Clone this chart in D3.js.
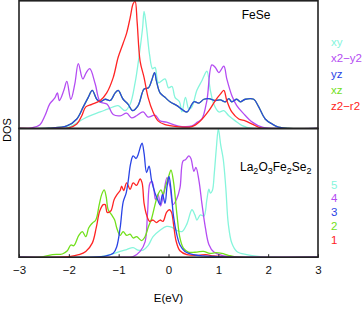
<!DOCTYPE html>
<html>
<head>
<meta charset="utf-8">
<script src="https://cdn.jsdelivr.net/npm/d3@7"></script>
<style>
  body { margin: 0; background: #fff; }
  svg { display: block; font-family: "Liberation Sans", Arial, sans-serif; }
  .line { fill: none; stroke-width: 1.3; stroke-linejoin: round; }
  .frame { fill: none; stroke: #222; stroke-width: 1.6; }
</style>
</head>
<body>
<script>
// ---- data: [energy (eV), DOS (arbitrary units)] ----
var xTicks = [-3, -2, -1, 0, 1, 2, 3];

// FeSe panel
var fese_xy = [[-2.3,0],[-2.0,0.01],[-1.71,0.075],[-1.58,0.10],[-1.37,0.13],[-1.24,0.15],[-1.11,0.17],[-1.01,0.18],[-0.87,0.14],[-0.77,0.19],[-0.67,0.36],[-0.59,0.57],[-0.52,0.79],[-0.49,0.92],[-0.44,0.79],[-0.38,0.58],[-0.32,0.47],[-0.27,0.48],[-0.20,0.36],[-0.07,0.39],[0.0,0.32],[0.07,0.33],[0.13,0.245],[0.22,0.21],[0.27,0.13],[0.34,0.245],[0.41,0.15],[0.47,0.17],[0.57,0.30],[0.67,0.375],[0.77,0.45],[0.84,0.30],[0.91,0.19],[1.01,0.13],[1.11,0.14],[1.21,0.10],[1.34,0.06],[1.47,0.025],[1.68,0.0],[3,0]];
var fese_x2y2 = [[-3,0],[-2.75,0.005],[-2.58,0.03],[-2.48,0.10],[-2.38,0.195],[-2.28,0.24],[-2.23,0.28],[-2.19,0.22],[-2.10,0.30],[-2.04,0.37],[-1.96,0.23],[-1.88,0.35],[-1.81,0.51],[-1.72,0.39],[-1.65,0.44],[-1.58,0.47],[-1.47,0.35],[-1.37,0.21],[-1.23,0.19],[-1.11,0.11],[-0.97,0.10],[-0.84,0.12],[-0.74,0.083],[-0.64,0.10],[-0.51,0.13],[-0.41,0.09],[-0.27,0.105],[-0.17,0.06],[-0.04,0.05],[0.10,0.03],[0.27,0.015],[0.47,0.02],[0.58,0.05],[0.67,0.075],[0.77,0.22],[0.87,0.50],[0.94,0.48],[1.01,0.44],[1.11,0.49],[1.17,0.39],[1.27,0.26],[1.37,0.18],[1.51,0.115],[1.68,0.05],[1.88,0.01],[2.14,0],[3,0]];
var fese_yz = [[-3,0],[-2.4,0.003],[-2.04,0.02],[-1.84,0.075],[-1.71,0.17],[-1.61,0.245],[-1.53,0.30],[-1.44,0.23],[-1.37,0.21],[-1.27,0.23],[-1.17,0.22],[-1.07,0.28],[-1.01,0.30],[-0.91,0.23],[-0.81,0.19],[-0.72,0.14],[-0.61,0.18],[-0.49,0.31],[-0.40,0.32],[-0.34,0.375],[-0.28,0.44],[-0.24,0.37],[-0.17,0.28],[-0.07,0.245],[0.03,0.21],[0.17,0.18],[0.27,0.15],[0.37,0.13],[0.51,0.21],[0.61,0.20],[0.71,0.23],[0.81,0.235],[0.94,0.22],[1.04,0.225],[1.14,0.21],[1.21,0.235],[1.27,0.21],[1.37,0.23],[1.44,0.21],[1.54,0.23],[1.71,0.23],[1.81,0.17],[1.94,0.075],[2.08,0.035],[2.21,0.01],[2.41,0],[3,0]];
var fese_xz = fese_yz; // degenerate with yz, hidden underneath
var fese_z2r2 = [[-3,0],[-2.2,0],[-2.0,0.005],[-1.84,0.035],[-1.74,0.10],[-1.66,0.17],[-1.54,0.19],[-1.37,0.22],[-1.24,0.28],[-1.11,0.40],[-1.01,0.56],[-0.91,0.67],[-0.84,0.75],[-0.77,0.87],[-0.71,0.98],[-0.67,1.0],[-0.63,0.84],[-0.57,0.53],[-0.49,0.40],[-0.41,0.245],[-0.31,0.13],[-0.21,0.06],[-0.07,0.03],[0.17,0.015],[0.47,0.015],[0.64,0.06],[0.81,0.14],[0.94,0.22],[1.04,0.27],[1.11,0.30],[1.17,0.22],[1.27,0.13],[1.41,0.075],[1.54,0.06],[1.68,0.035],[1.88,0],[3,0]];

// La2O3Fe2Se2 panel
var lofs_1 = [[-3,0],[-2.2,0],[-1.99,0.005],[-1.80,0.02],[-1.66,0.045],[-1.53,0.11],[-1.45,0.23],[-1.38,0.36],[-1.31,0.41],[-1.27,0.41],[-1.23,0.35],[-1.16,0.36],[-1.09,0.45],[-1.03,0.49],[-0.97,0.52],[-0.94,0.555],[-0.90,0.52],[-0.84,0.58],[-0.77,0.53],[-0.71,0.58],[-0.64,0.56],[-0.57,0.61],[-0.53,0.58],[-0.49,0.42],[-0.44,0.33],[-0.38,0.28],[-0.31,0.29],[-0.24,0.27],[-0.17,0.29],[-0.11,0.28],[-0.04,0.35],[0.02,0.37],[0.06,0.35],[0.10,0.26],[0.15,0.13],[0.23,0.05],[0.37,0.02],[0.6,0.015],[0.75,0.02],[0.9,0.01],[1.1,0.005],[1.3,0],[3,0]];
var lofs_2 = [[-3,0],[-2.6,0],[-2.33,0.02],[-2.13,0.025],[-2.03,0.05],[-1.96,0.095],[-1.90,0.09],[-1.80,0.17],[-1.73,0.20],[-1.66,0.16],[-1.60,0.23],[-1.53,0.265],[-1.46,0.29],[-1.39,0.41],[-1.34,0.49],[-1.29,0.525],[-1.25,0.47],[-1.21,0.37],[-1.14,0.33],[-1.08,0.29],[-1.04,0.23],[-0.97,0.17],[-0.91,0.20],[-0.84,0.17],[-0.77,0.18],[-0.71,0.15],[-0.64,0.16],[-0.54,0.13],[-0.47,0.16],[-0.41,0.23],[-0.34,0.30],[-0.27,0.41],[-0.21,0.49],[-0.15,0.525],[-0.11,0.49],[-0.05,0.565],[0.01,0.64],[0.05,0.68],[0.10,0.59],[0.17,0.33],[0.23,0.15],[0.30,0.07],[0.40,0.04],[0.57,0.04],[0.70,0.045],[0.83,0.03],[0.95,0.035],[1.07,0.03],[1.2,0.015],[1.4,0],[3,0]];
var lofs_3 = [[-3,0],[-1.5,0],[-1.25,0.01],[-1.11,0.03],[-1.04,0.08],[-0.97,0.23],[-0.91,0.43],[-0.85,0.50],[-0.81,0.59],[-0.76,0.73],[-0.71,0.79],[-0.65,0.77],[-0.61,0.80],[-0.56,0.865],[-0.53,0.89],[-0.49,0.81],[-0.44,0.66],[-0.39,0.71],[-0.34,0.60],[-0.27,0.50],[-0.22,0.45],[-0.17,0.41],[-0.12,0.49],[-0.07,0.42],[-0.03,0.55],[0.01,0.63],[0.05,0.53],[0.10,0.32],[0.17,0.17],[0.23,0.095],[0.33,0.045],[0.50,0.02],[0.70,0.01],[1.0,0.005],[1.3,0],[3,0]];
var lofs_4 = [[-3,0],[-0.97,0],[-0.71,0.005],[-0.57,0.045],[-0.47,0.12],[-0.42,0.35],[-0.37,0.58],[-0.33,0.59],[-0.29,0.52],[-0.26,0.45],[-0.21,0.49],[-0.16,0.40],[-0.10,0.49],[-0.03,0.62],[0.03,0.55],[0.09,0.41],[0.16,0.45],[0.23,0.54],[0.29,0.75],[0.34,0.76],[0.41,0.79],[0.45,0.77],[0.51,0.67],[0.55,0.70],[0.61,0.60],[0.67,0.42],[0.74,0.23],[0.81,0.10],[0.91,0.04],[1.07,0.015],[1.3,0.003],[1.5,0],[3,0]];
var lofs_5 = [[-3,0],[-1.8,0],[-1.37,0.005],[-1.17,0.02],[-0.97,0.045],[-0.84,0.06],[-0.71,0.075],[-0.61,0.055],[-0.51,0.055],[-0.41,0.09],[-0.31,0.16],[-0.17,0.21],[-0.04,0.24],[0.06,0.235],[0.16,0.21],[0.27,0.20],[0.37,0.26],[0.47,0.37],[0.53,0.33],[0.57,0.29],[0.64,0.33],[0.71,0.32],[0.77,0.45],[0.81,0.53],[0.84,0.50],[0.88,0.52],[0.92,0.66],[0.96,0.85],[1.0,1.0],[1.05,0.87],[1.10,0.76],[1.15,0.54],[1.20,0.26],[1.27,0.11],[1.37,0.045],[1.57,0.02],[1.84,0.005],[2.04,0],[3,0]];

var topNames = ["xy", "x2\u2212y2", "yz", "xz", "z2\u2212r2"];
var botNames = ["5", "4", "3", "2", "1"];
var colors = ["#86f5dc", "#b44cf2", "#2a44e6", "#72e01c", "#ff2424"];

// ---- layout ----
var width = 364, height = 309;
var left = 19, right = 318, plotTop = 0.8, mid = 128.5, bottom = 257.2;

var svg = d3.select("body").append("svg")
    .attr("width", width)
    .attr("height", height);

var x = d3.scaleLinear().domain([-3, 3]).range([left, right]);
var yTop = d3.scaleLinear().domain([0, 1]).range([mid, plotTop + 0.5]);
var yBot = d3.scaleLinear().domain([0, 1]).range([bottom, mid + 0.5]);

var clip = svg.append("defs");
clip.append("clipPath").attr("id", "clipTop")
  .append("rect").attr("x", left).attr("y", plotTop).attr("width", right - left).attr("height", mid - plotTop);
clip.append("clipPath").attr("id", "clipBot")
  .append("rect").attr("x", left).attr("y", mid).attr("width", right - left).attr("height", bottom - mid);

function lineFor(y) {
  return d3.line()
    .x(function(d) { return x(d[0]); })
    .y(function(d) { return y(d[1]); })
    .curve(d3.curveCatmullRom.alpha(0.5));
}

// draw order: blue over green, red on top
var topSeries = [fese_xz, fese_xy, fese_x2y2, fese_yz, fese_z2r2];
var topColor = [colors[3], colors[0], colors[1], colors[2], colors[4]];
svg.append("g").attr("clip-path", "url(#clipTop)")
  .selectAll("path")
    .data(topSeries)
  .enter().append("path")
    .attr("class", "line")
    .attr("d", lineFor(yTop))
    .style("stroke", function(d, i) { return topColor[i]; });

var botSeries = [lofs_5, lofs_4, lofs_2, lofs_1, lofs_3];
var botColor = [colors[0], colors[1], colors[3], colors[4], colors[2]];
svg.append("g").attr("clip-path", "url(#clipBot)")
  .selectAll("path")
    .data(botSeries)
  .enter().append("path")
    .attr("class", "line")
    .attr("d", lineFor(yBot))
    .style("stroke", function(d, i) { return botColor[i]; });

// frames
svg.append("rect").attr("class", "frame")
    .attr("x", left).attr("y", plotTop).attr("width", right - left).attr("height", mid - plotTop);
svg.append("rect").attr("class", "frame")
    .attr("x", left).attr("y", mid).attr("width", right - left).attr("height", bottom - mid);

// x axis (ticks pointing inward)
var xAxis = d3.axisBottom(x)
    .tickValues(xTicks)
    .tickSizeInner(-3)
    .tickSizeOuter(0)
    .tickPadding(9)
    .tickFormat(function(d) { return d < 0 ? "\u2212" + Math.abs(d) : d; });

var gx = svg.append("g")
    .attr("transform", "translate(0," + bottom + ")")
    .call(xAxis);
gx.select(".domain").remove();
gx.selectAll("line").style("stroke", "#222");
gx.selectAll("text")
    .style("font-size", "11.5px")
    .style("fill", "#111")
    .attr("font-family", null);

svg.append("text")
    .attr("x", x(0))
    .attr("y", 302)
    .attr("text-anchor", "middle")
    .style("font-size", "11.5px")
    .text("E(eV)");

svg.append("text")
    .attr("transform", "translate(11,130) rotate(-90)")
    .attr("text-anchor", "middle")
    .style("font-size", "11px")
    .text("DOS");

// panel titles
svg.append("text")
    .attr("x", 256)
    .attr("y", 19)
    .attr("text-anchor", "middle")
    .style("font-size", "12px")
    .text("FeSe");

var title2 = svg.append("text")
    .attr("x", 240)
    .attr("y", 171)
    .style("font-size", "12px");
[["La", false], ["2", true], ["O", false], ["3", true], ["Fe", false], ["2", true], ["Se", false], ["2", true]]
  .forEach(function(p, i) {
    title2.append("tspan")
      .attr("dy", p[1] ? 3 : (i > 0 ? -3 : 0))
      .style("font-size", p[1] ? "9px" : "12px")
      .text(p[0]);
  });

// legends
svg.selectAll(".legTop")
    .data(topNames)
  .enter().append("text")
    .attr("class", "legTop")
    .attr("x", 331)
    .attr("y", function(d, i) { return 45.5 + i * 16.2; })
    .style("font-size", "11.5px")
    .style("fill", function(d, i) { return colors[i]; })
    .text(function(d) { return d; });

svg.selectAll(".legBot")
    .data(botNames)
  .enter().append("text")
    .attr("class", "legBot")
    .attr("x", 331)
    .attr("y", function(d, i) { return 188.5 + i * 13.8; })
    .style("font-size", "11.5px")
    .style("fill", function(d, i) { return colors[i]; })
    .text(function(d) { return d; });
</script>
</body>
</html>
